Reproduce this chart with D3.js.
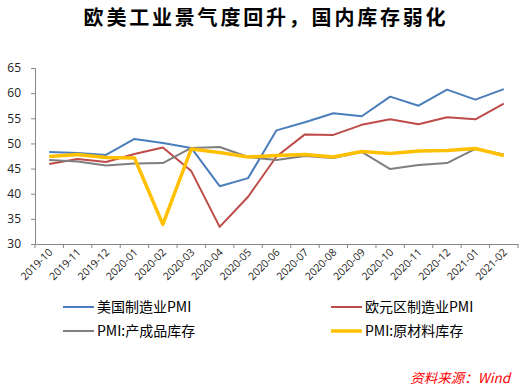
<!DOCTYPE html>
<html><head><meta charset="utf-8">
<script src="https://cdn.jsdelivr.net/npm/d3@7/dist/d3.min.js"></script>
<style>body{margin:0;background:#fff}svg{display:block}</style>
</head><body>
<svg id="c" width="521" height="390"></svg>
<script>
const categories = ["2019-10","2019-11","2019-12","2020-01","2020-02","2020-03","2020-04","2020-05","2020-06","2020-07","2020-08","2020-09","2020-10","2020-11","2020-12","2021-01","2021-02"];
const usPMI   = [48.3,48.1,47.7,50.9,50.1,49.1,41.5,43.1,52.6,54.2,56.0,55.4,59.3,57.5,60.7,58.7,60.8];
const euPMI   = [45.9,46.9,46.3,47.9,49.2,44.5,33.4,39.4,47.4,51.8,51.7,53.7,54.8,53.8,55.2,54.8,57.9];
const finInv  = [46.7,46.4,45.6,46.0,46.1,49.1,49.3,47.3,46.7,47.5,47.1,48.3,44.9,45.7,46.1,48.9,47.8];
const rawInv  = [47.4,47.8,47.2,47.1,33.9,48.9,48.2,47.3,47.6,47.8,47.3,48.4,48.0,48.5,48.6,49.0,47.6];
const yTicks  = [30,35,40,45,50,55,60,65];
const seriesNames = ["美国制造业PMI","欧元区制造业PMI","PMI:产成品库存","PMI:原材料库存"];
const seriesColors = ["#4A7EBB","#BE4B48","#7F7F7F","#FFC000"];
const seriesWidths = [2,2,2,3.5];
const seriesData = [usPMI, euPMI, finInv, rawInv];

const svg = d3.select("#c");
const font = "'Noto Sans CJK SC','Noto Sans',sans-serif";

svg.append("text").attr("x",266).attr("y",25).attr("text-anchor","middle")
  .attr("font-family",font).attr("font-weight","bold").attr("font-size",20)
  .attr("letter-spacing","2.8px").attr("fill","#000")
  .text("欧美工业景气度回升，国内库存弱化");

const x = d3.scaleBand().domain(categories).range([35,518]);
const y = d3.scaleLinear().domain([30,65]).range([244,68]);

const axisColor = "#868686";
// y axis
const ya = svg.append("g").attr("transform","translate(35,0)")
  .call(d3.axisLeft(y).tickValues(yTicks).tickSize(4).tickPadding(10));
ya.select(".domain").attr("stroke",axisColor);
ya.selectAll(".tick line").attr("stroke",axisColor);
ya.selectAll(".tick text").attr("font-family","'Open Sans',sans-serif").attr("font-size",12).attr("fill","#222");

// x axis
const xa = svg.append("g").attr("transform","translate(0,244)")
  .call(d3.axisBottom(x).tickSize(0).tickSizeOuter(0));
xa.select(".domain").attr("stroke",axisColor);
xa.selectAll(".tick text").remove();
// boundary ticks
const bounds = categories.map(c=>x(c)).concat([x.range()[1]]);
xa.selectAll(".bt").data(bounds).enter().append("line")
  .attr("x1",d=>d).attr("x2",d=>d).attr("y1",0).attr("y2",4).attr("stroke",axisColor);
xa.selectAll(".lbl").data(categories).enter().append("text")
  .attr("transform",d=>`translate(${x(d)+x.bandwidth()/2+4},${9}) rotate(-45)`)
  .attr("text-anchor","end").attr("font-family","'Open Sans',sans-serif").attr("font-size",10.5)
  .attr("fill","#222").text(d=>d);

// lines
const line = d3.line().x((d,i)=>x(categories[i])+x.bandwidth()/2).y(d=>y(d));
seriesData.forEach((s,k)=>{
  svg.append("path").datum(s).attr("d",line).attr("fill","none")
    .attr("stroke",seriesColors[k]).attr("stroke-width",seriesWidths[k])
    .attr("stroke-linejoin","round");
});

// legend
const legPos = [[63,307],[331,307],[63,331],[331,331]];
seriesNames.forEach((n,k)=>{
  const [lx,ly] = legPos[k];
  svg.append("line").attr("x1",lx).attr("x2",lx+31).attr("y1",ly).attr("y2",ly)
    .attr("stroke",seriesColors[k]).attr("stroke-width",seriesWidths[k]);
  svg.append("text").attr("x",lx+34).attr("y",ly+5).attr("font-family",font)
    .attr("font-size",14).attr("fill","#000").text(n);
});

svg.append("text").attr("x",510).attr("y",383).attr("text-anchor","end")
  .attr("font-family",font).attr("font-style","italic").attr("font-size",13.5)
  .attr("fill","#FF0000").text("资料来源：Wind");
</script>
</body></html>
